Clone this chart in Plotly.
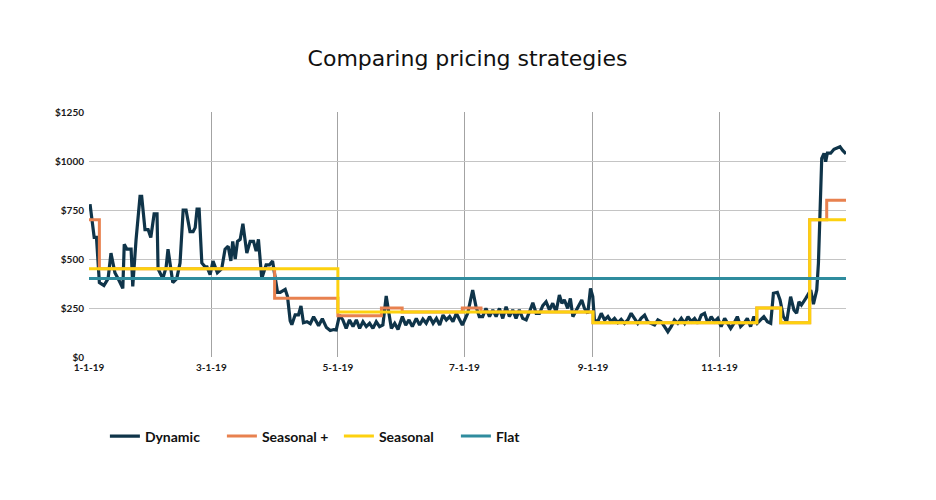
import pandas as pd
import plotly.graph_objects as go

# ---------------- data ----------------
START = "2019-01-01"

tick_dates = ["2019-01-01", "2019-03-01", "2019-05-01", "2019-07-01", "2019-09-01", "2019-11-01"]
tick_labels = ["1-1-19", "3-1-19", "5-1-19", "7-1-19", "9-1-19", "11-1-19"]

y_ticks = [0, 250, 500, 750, 1000, 1250]
y_labels = ["$0", "$250", "$500", "$750", "$1000", "$1250"]

# Dynamic pricing: day offset from 1 Jan 2019, price
dynamic_day = [
    0.5, 2.5, 3.6, 5.0, 7.2, 9.2, 10.6, 12.5, 14.5, 16.3, 17.0, 18.3, 20.3, 21.1, 22.7,
    24.6, 25.4, 27.0, 28.5, 29.8, 31.4, 32.8, 33.3, 35.6, 37.2, 38.1, 40.4, 42.3, 43.9,
    45.4, 46.8, 48.7, 50.2, 51.2, 52.1, 53.1, 54.4, 56.0, 56.9, 58.4, 59.8, 61.9, 64.0,
    65.6, 67.1, 68.4, 69.3, 70.5, 71.6, 72.9, 74.2, 76.1, 77.7, 79.3, 80.6, 81.7, 83.3,
    85.4, 87.0, 88.5, 90.9, 92.2, 94.6, 95.7, 97.0, 97.8, 99.4, 101.0, 102.2, 103.4,
    105.1, 106.7, 108.3, 110.7, 112.5, 114.5, 116.3, 118.0, 119.2, 120.8,
    122.4, 124.0, 125.6, 127.3, 128.9, 130.5, 132.1, 133.7, 135.3, 136.9, 138.5, 140.1,
    141.7, 143.3, 144.6, 145.8, 147.4, 149.0, 151.1, 152.7, 154.3, 155.9, 157.8, 159.4,
    161.0, 162.6, 164.2, 165.9, 167.5, 169.1, 170.7, 172.3, 173.9, 175.5, 177.1, 178.7,
    180.0, 182.6, 185.0, 186.6, 188.2, 189.8, 191.4, 193.1, 194.7, 196.3, 197.9, 199.5,
    201.1, 202.7, 204.3, 205.9, 207.5, 209.1, 210.8, 212.4, 214.0, 215.6, 217.2, 218.8,
    220.4, 222.0, 223.6, 225.2, 226.8, 228.0, 229.2, 230.8, 232.1, 233.3, 234.9, 236.5,
    237.6, 238.9, 240.5, 241.8, 242.9, 243.7, 245.3, 247.0, 248.6, 250.2, 251.8, 253.4,
    255.0, 256.6, 258.2, 259.8, 261.4, 263.0, 264.6, 266.2, 267.9, 269.4, 271.1, 272.7,
    274.3, 275.9, 277.5, 279.1, 280.7, 282.3, 283.9, 285.6, 287.2, 288.8, 290.4, 292.0,
    293.6, 295.2, 296.8, 298.4, 300.0, 301.6, 303.2, 304.8, 306.5, 308.1, 309.4, 311.0,
    312.6, 314.2, 315.8, 317.4, 319.0, 320.6, 322.2, 323.8, 325.4, 327.1, 328.7, 330.0,
    331.9, 333.2, 334.8, 336.4, 338.3, 339.9, 341.2, 342.3, 343.5, 345.6, 346.7, 348.0,
    349.3, 350.9, 351.7, 352.5, 353.3, 354.4, 355.2, 356.0, 357.6, 359.2, 360.8, 362.1,
    363.3, 364.4, 365.0,
]
dynamic_price = [
    780, 610, 610, 380, 365, 400, 530, 430, 390, 350, 575, 550, 550, 360, 600,
    820, 820, 650, 650, 610, 730, 730, 450, 400, 460, 550, 380, 400, 480,
    750, 750, 640, 640, 660, 755, 755, 480, 460, 460, 420, 490, 430, 450,
    550, 565, 490, 590, 500, 590, 600, 680, 530, 590, 590, 540, 600, 400,
    470, 470, 490, 330, 330, 345, 310, 185, 165, 215, 215, 260, 175,
    180, 170, 205, 160, 195, 150, 135, 140, 138, 214,
    189, 146, 189, 155, 189, 146, 180, 155, 172, 146, 180, 155,
    163, 311, 223, 146, 172, 141, 206, 163, 189, 155, 197, 163,
    193, 172, 206, 172, 197, 163, 214, 189, 206, 180, 223, 189,
    163, 223, 342, 257, 206, 206, 248, 206, 240, 206, 248, 197,
    257, 206, 240, 197, 240, 197, 189, 231, 277, 223, 223, 262,
    282, 240, 274, 231, 316, 274, 291, 248, 299, 206, 240, 274,
    291, 248, 223, 350, 308, 189, 180, 223, 189, 206, 180, 197,
    175, 192, 172, 189, 223, 197, 172, 197, 214, 180, 172, 163,
    189, 180, 155, 129, 155, 189, 172, 197, 172, 206, 180, 197,
    172, 214, 223, 172, 206, 180, 197, 155, 197, 172, 146, 172,
    206, 155, 172, 197, 155, 206, 172, 189, 206, 180, 172, 325,
    330, 291, 206, 180, 308, 240, 223, 282, 265, 299, 316, 342,
    270, 342, 478, 818, 1014, 1039, 997, 1040, 1040, 1060, 1065, 1073,
    1055, 1040, 1037,
]

# Seasonal + (step changes)
season_plus_day = [0, 5, 89.5, 120, 141, 151, 180, 189, 243, 322, 333.5, 347.5, 355.7, 365]
season_plus_price = [700, 450, 300, 210, 250, 230, 250, 230, 175, 250, 175, 700, 800, 800]

# Seasonal (step changes)
season_day = [0, 120, 243, 322, 333.5, 347.5, 365]
season_price = [450, 230, 175, 250, 175, 700, 700]

# Flat
flat_day = [0, 365]
flat_price = [400, 400]

series_names = ["Dynamic", "Seasonal +", "Seasonal", "Flat"]
series_colors = ["#0f3449", "#e8814f", "#fdd10f", "#2f8c9e"]

# ---------------- figure ----------------
start = pd.Timestamp(START)


def to_dates(days):
    return [start + pd.Timedelta(days=float(d)) for d in days]


fig = go.Figure()
fig.add_trace(go.Scatter(x=to_dates(dynamic_day), y=dynamic_price, mode="lines",
                         name=series_names[0],
                         line=dict(color=series_colors[0], width=3.2)))
fig.add_trace(go.Scatter(x=to_dates(season_plus_day), y=season_plus_price, mode="lines",
                         name=series_names[1], line_shape="hv",
                         line=dict(color=series_colors[1], width=3)))
fig.add_trace(go.Scatter(x=to_dates(season_day), y=season_price, mode="lines",
                         name=series_names[2], line_shape="hv",
                         line=dict(color=series_colors[2], width=3)))
fig.add_trace(go.Scatter(x=to_dates(flat_day), y=flat_price, mode="lines",
                         name=series_names[3],
                         line=dict(color=series_colors[3], width=3)))

tick_font = dict(family="Lato", size=10, color="#1a1a1a", weight="bold")

fig.update_layout(
    width=936, height=500,
    margin=dict(l=81, r=98, t=104, b=151),
    paper_bgcolor="white", plot_bgcolor="white",
    title=dict(text="Comparing pricing strategies", x=0.5, xref="paper", xanchor="center",
               y=0.9, yref="container", yanchor="middle",
               font=dict(family="DejaVu Sans", size=22, color="#111111")),
    xaxis=dict(range=[start, start + pd.Timedelta(days=365)],
               tickvals=pd.to_datetime(tick_dates), ticktext=tick_labels,
               showgrid=True, gridcolor="#a3a3a3", gridwidth=1,
               zeroline=False, showline=False, ticks="", tickfont=tick_font,
               ticklabelstandoff=3),
    yaxis=dict(range=[0, 1250], tickvals=y_ticks, ticktext=y_labels,
               showgrid=True, gridcolor="#c4c4c4", gridwidth=1,
               zeroline=False, showline=False, ticks="", tickfont=tick_font,
               ticklabelstandoff=4),
    legend=dict(orientation="h", x=0.021, xanchor="left", y=-0.3245, yanchor="middle",
                font=dict(family="Lato", size=14, color="#111111", weight="bold"),
                entrywidth=72, itemwidth=30, bgcolor="rgba(0,0,0,0)"),
    showlegend=True,
)

fig.write_html("out.html")
